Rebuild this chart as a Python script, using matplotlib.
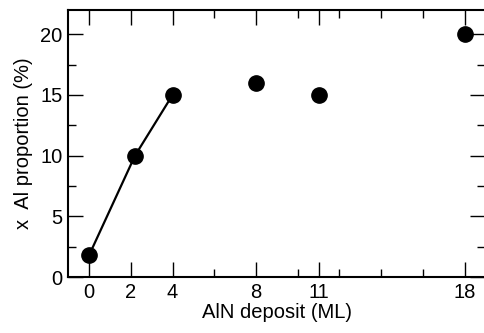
import matplotlib.pyplot as plt
from matplotlib.ticker import FixedLocator

# data
deposit = [0, 2.2, 4, 8, 11, 18]
al_prop = [1.8, 10, 15, 16, 15, 20]
# linear part at low coverage
fit_x = [0, 2.2, 4]
fit_y = [1.8, 10, 15]

xtick_major = [0, 2, 4, 8, 11, 18]
xtick_minor = [6, 10, 12, 14, 16]
ytick_major = [0, 5, 10, 15, 20]
ytick_minor = [2.5, 7.5, 12.5, 17.5]

plt.rcParams['font.family'] = ['Liberation Sans', 'DejaVu Sans']

fig = plt.figure(figsize=(4.84, 3.33), dpi=100)
ax = fig.add_axes([0.141, 0.168, 0.862, 0.802])

ax.plot(fit_x, fit_y, color='black', lw=1.6, zorder=2)
ax.plot(deposit, al_prop, 'o', color='black', ms=11, zorder=3)

ax.set_xlim(-1, 19)
ax.set_ylim(0, 22)

ax.xaxis.set_major_locator(FixedLocator(xtick_major))
ax.xaxis.set_minor_locator(FixedLocator(xtick_minor))
ax.yaxis.set_major_locator(FixedLocator(ytick_major))
ax.yaxis.set_minor_locator(FixedLocator(ytick_minor))
ax.set_xticklabels([str(t) for t in xtick_major])

ax.tick_params(which='both', direction='in', top=True, right=True,
               labelsize=14.5, color='black', width=1)
ax.tick_params(which='major', length=11, pad=4)
ax.tick_params(which='minor', length=6)

for s in ax.spines.values():
    s.set_linewidth(1.5)

ax.set_xlabel('AlN deposit (ML)', fontsize=14.5, labelpad=1)
ax.set_ylabel('x  Al proportion (%)', fontsize=14.5, labelpad=5)

fig.savefig('out.png', dpi=100)
